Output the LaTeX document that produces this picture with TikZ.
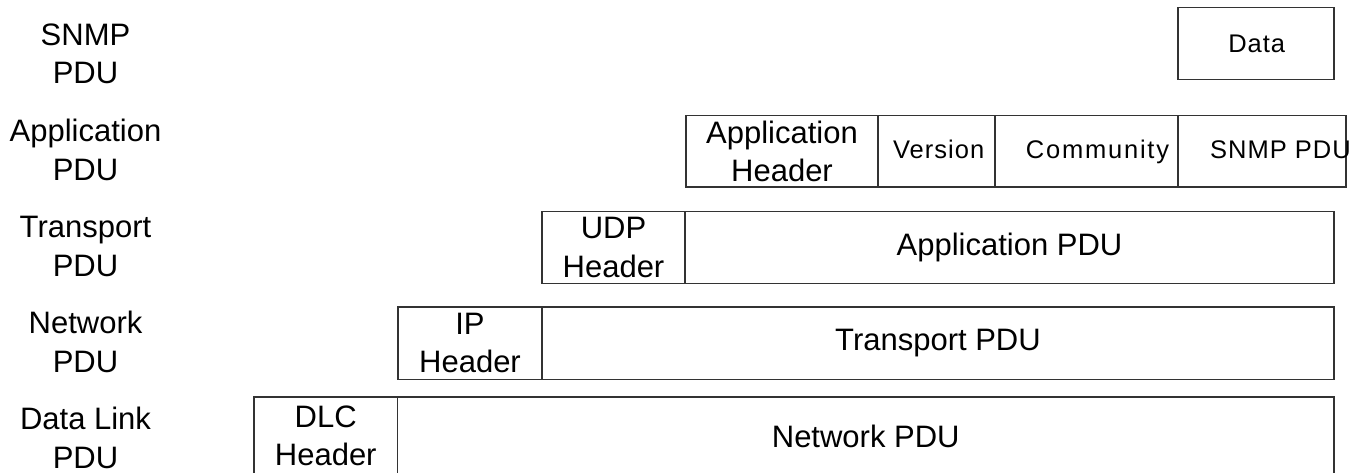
\documentclass[tikz,border=0pt]{standalone}
\usepackage{fontspec}
\setmainfont{Liberation Sans}
\newfontfamily\smallsp[LetterSpace=4]{Liberation Sans}
\newfontfamily\smallwide[LetterSpace=7]{Liberation Sans}
\begin{document}
\begin{tikzpicture}[x=1pt,y=-1pt,
  box/.style={draw=black!80, line width=1.3pt, inner sep=0pt, outer sep=0pt, anchor=center},
  big/.style={font=\fontsize{31}{38.5}\selectfont, align=center},
  small/.style={font=\smallsp\fontsize{25.5}{31}\selectfont, inner sep=0pt, anchor=base},
  smallw/.style={font=\smallwide\fontsize{25.5}{31}\selectfont, inner sep=0pt, anchor=base},
  lbl/.style={big, inner sep=0pt}]
\useasboundingbox (0,0) rectangle (1355,473);
\clip (0,0) rectangle (1355,473);
\fill[white] (0,0) rectangle (1355,473);

% left labels
\node[lbl] (lsnmp) at (85.5,53.8) {SNMP\\PDU};
\node[lbl] (lapp)  at (85.5,149.7) {Application\\PDU};
\node[lbl] (ltr)   at (85.5,246.7) {Transport\\PDU};
\node[lbl] (lnet)  at (85.5,342) {Network\\PDU};
\node[lbl] (ldl)   at (85.5,438) {Data Link\\PDU};

% SNMP PDU row
\node[box, minimum width=156pt, minimum height=72pt] (data) at (1256,43.3) {};
\node[small] (datat) at (1256.7,52.3) {Data};

% Application PDU row
\node[box, big, minimum width=192pt, minimum height=71.3pt] (apph) at (782,151.35) {Application\\Header};
\node[box, minimum width=117pt, minimum height=71.3pt] (ver) at (936.5,151.35) {};
\node[box, minimum width=183pt, minimum height=71.3pt] (comm) at (1086.5,151.35) {};
\node[box, minimum width=168pt, minimum height=71.3pt] (snmp) at (1262,151.35) {};
\node[small] (vert) at (938.7,159) {Version};
\node[smallw] (commt) at (1097.5,159) {Community};
\node[small] (snmpt) at (1280.5,159) {SNMP PDU};

% Transport PDU row
\node[box, big, minimum width=143pt, minimum height=71.6pt] (udp) at (613.5,247.5) {UDP\\Header};
\node[box, big, minimum width=649pt, minimum height=71.6pt] (apdu) at (1009.5,247.5) {Application PDU};

% Network PDU row
\node[box, big, minimum width=144pt, minimum height=72.3pt] (ip) at (470,343.15) {IP\\Header};
\node[box, big, minimum width=792pt, minimum height=72.3pt] (tpdu) at (938,343.15) {Transport PDU};

% Data Link PDU row
\node[box, big, minimum width=143.5pt, minimum height=78pt] (dlc) at (325.75,436) {DLC\\Header};
\node[box, big, minimum width=936.5pt, minimum height=78pt] (npdu) at (865.75,436) {Network PDU};
\end{tikzpicture}
\end{document}
